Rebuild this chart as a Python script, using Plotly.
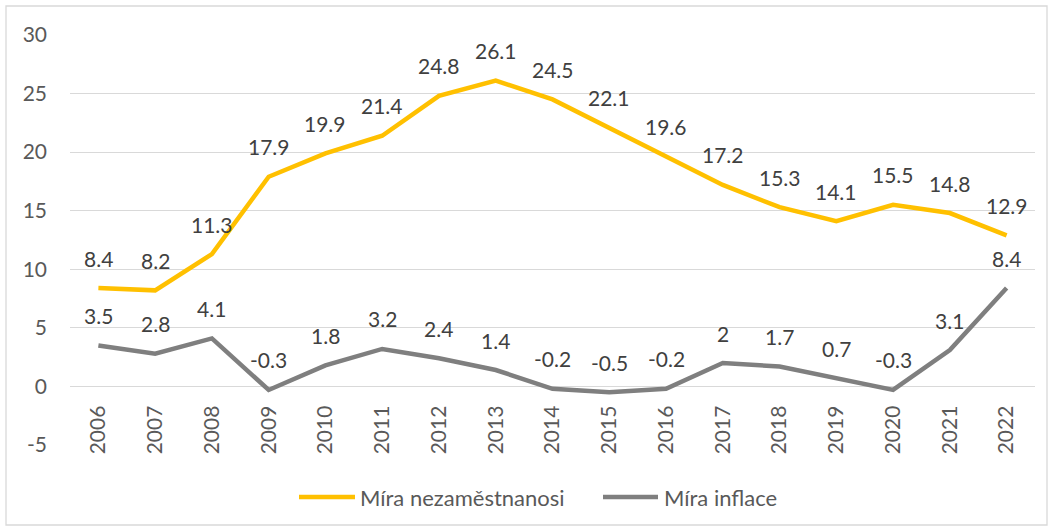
import plotly.graph_objects as go

years = ["2006", "2007", "2008", "2009", "2010", "2011", "2012", "2013", "2014",
         "2015", "2016", "2017", "2018", "2019", "2020", "2021", "2022"]
unemployment = [8.4, 8.2, 11.3, 17.9, 19.9, 21.4, 24.8, 26.1, 24.5, 22.1, 19.6,
                17.2, 15.3, 14.1, 15.5, 14.8, 12.9]
inflation = [3.5, 2.8, 4.1, -0.3, 1.8, 3.2, 2.4, 1.4, -0.2, -0.5, -0.2, 2, 1.7,
             0.7, -0.3, 3.1, 8.4]
series_names = ["Míra nezaměstnanosi", "Míra inflace"]
y_ticks = [-5, 0, 5, 10, 15, 20, 25, 30]
y_ticktext = ["-5", "0", "5", "10", "15", "20", "25", "30"]

YELLOW = "#FFC000"
GRAY = "#7F7F7F"
FONT = "Lato, Carlito, Calibri, sans-serif"

W, H = 1053, 531
L, R, T, B = 70, 18, 35, 86
ymin, ymax = -5, 30
plot_w = W - L - R
plot_h = H - T - B


def px_x(px):
    return (px - L) / plot_w


def px_y(py):
    return (H - B - py) / plot_h


fig = go.Figure()
colors = [YELLOW, GRAY]
for name, series, col in zip(series_names, (unemployment, inflation), colors):
    fig.add_trace(go.Scatter(x=list(range(len(years))), y=series, mode="lines",
                             name=name, line=dict(color=col, width=4.5),
                             showlegend=False, hoverinfo="skip"))

annotations = []
for series in (unemployment, inflation):
    for i, v in enumerate(series):
        annotations.append(dict(x=i, y=v, xref="x", yref="y", text=f"{v:g}",
                                showarrow=False, yshift=30, yanchor="middle",
                                font=dict(family=FONT, size=21, color="#404040")))

shapes = [dict(type="rect", xref="paper", yref="paper",
               x0=px_x(6), x1=px_x(W - 6), y0=px_y(H - 6), y1=px_y(6),
               line=dict(color="#D9D9D9", width=1.3), layer="below")]

# manual legend (longer line samples, as in the reference)
legend_items = [(299, 355, 358), (603, 658, 662)]
for (sx0, sx1, tx), name, col in zip(legend_items, series_names, colors):
    shapes.append(dict(type="line", xref="paper", yref="paper",
                       x0=px_x(sx0), x1=px_x(sx1), y0=px_y(497), y1=px_y(497),
                       line=dict(color=col, width=4.5)))
    annotations.append(dict(x=px_x(tx), y=px_y(497), xref="paper", yref="paper",
                            text=name, showarrow=False, xanchor="left",
                            yanchor="middle",
                            font=dict(family=FONT, size=22, color="#595959")))

fig.update_layout(
    width=W, height=H,
    margin=dict(l=L, r=R, t=T, b=B),
    paper_bgcolor="white", plot_bgcolor="white",
    font=dict(family=FONT, size=21, color="#595959"),
    xaxis=dict(range=[-0.5, len(years) - 0.5], tickmode="array",
               tickvals=list(range(len(years))), ticktext=years,
               tickangle=-90, showgrid=False, zeroline=False, showline=False,
               anchor="free", position=(0 - ymin) / (ymax - ymin),
               ticks="", ticklabelstandoff=14,
               tickfont=dict(size=21, color="#595959")),
    yaxis=dict(range=[ymin, ymax], tickmode="array", tickvals=y_ticks,
               ticktext=y_ticktext, showgrid=True,
               gridcolor="#D9D9D9", gridwidth=1.3, zeroline=False,
               showline=False, ticks="", ticklabelstandoff=22,
               tickfont=dict(size=21, color="#595959")),
    showlegend=False,
    hovermode=False,
    annotations=annotations,
    shapes=shapes,
)

fig.write_html("out.html", config={"displayModeBar": False},
               post_script="document.body.style.margin='0';document.body.style.padding='0';")
